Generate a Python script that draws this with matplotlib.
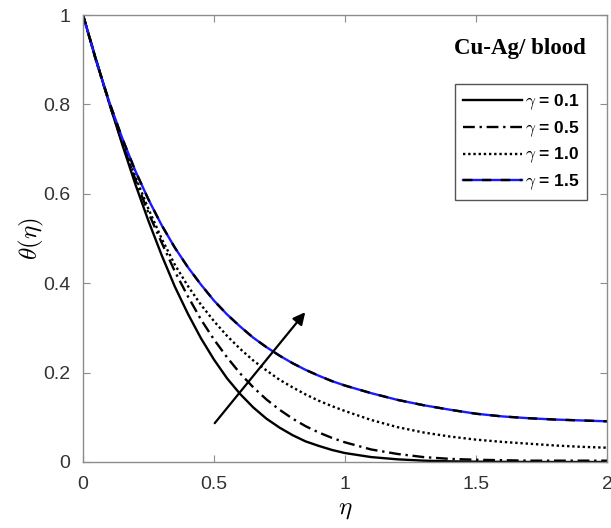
import matplotlib
matplotlib.use("Agg")
import matplotlib.pyplot as plt

plt.rcParams['mathtext.fontset'] = 'cm'
plt.rcParams['font.family'] = ['Liberation Sans', 'DejaVu Sans']

eta = [0.0, 0.05, 0.10, 0.15, 0.20, 0.25, 0.30, 0.35, 0.40, 0.45, 0.50,
       0.55, 0.60, 0.65, 0.70, 0.75, 0.80, 0.85, 0.90, 0.95, 1.00,
       1.1, 1.2, 1.3, 1.4, 1.5, 1.6, 1.7, 1.8, 1.9, 2.0]

theta_g01 = [1.0, 0.900, 0.803, 0.710, 0.621, 0.539, 0.463, 0.393, 0.332, 0.277, 0.229,
             0.187, 0.152, 0.122, 0.097, 0.077, 0.060, 0.046, 0.036, 0.027, 0.020,
             0.011, 0.006, 0.003, 0.0015, 0.0007, 0.0003, 0.0001, 0.0, 0.0, 0.0]
theta_g05 = [1.0, 0.900, 0.802, 0.714, 0.632, 0.557, 0.491, 0.427, 0.371, 0.319, 0.274,
             0.234, 0.198, 0.167, 0.140, 0.117, 0.097, 0.080, 0.066, 0.054, 0.044,
             0.028, 0.018, 0.011, 0.007, 0.005, 0.004, 0.003, 0.003, 0.003, 0.003]
theta_g10 = [1.0, 0.897, 0.803, 0.717, 0.638, 0.566, 0.500, 0.442, 0.394, 0.352, 0.315,
             0.282, 0.253, 0.227, 0.205, 0.184, 0.167, 0.151, 0.137, 0.125, 0.114,
             0.094, 0.078, 0.066, 0.057, 0.050, 0.045, 0.041, 0.037, 0.034, 0.032]
theta_g15 = [1.0, 0.898, 0.806, 0.724, 0.651, 0.587, 0.530, 0.480, 0.436, 0.397, 0.361,
             0.330, 0.303, 0.278, 0.257, 0.238, 0.221, 0.206, 0.193, 0.181, 0.171,
             0.154, 0.139, 0.127, 0.117, 0.108, 0.102, 0.098, 0.095, 0.093, 0.091]

labels = [r'$\gamma$ = 0.1', r'$\gamma$ = 0.5', r'$\gamma$ = 1.0', r'$\gamma$ = 1.5']
xticks = [0, 0.5, 1, 1.5, 2]
xticklabels = ['0', '0.5', '1', '1.5', '2']
yticks = [0, 0.2, 0.4, 0.6, 0.8, 1]
yticklabels = ['0', '0.2', '0.4', '0.6', '0.8', '1']
annot_text = 'Cu-Ag/ blood'

W, H = 611, 528
fig = plt.figure(figsize=(W / 100, H / 100), dpi=100)
ax = fig.add_axes([83 / W, (H - 462) / H, 524 / W, 447 / H])

lw = 1.7
l1, = ax.plot(eta, theta_g01, color='black', lw=lw, ls='-')
l2, = ax.plot(eta, theta_g05, color='black', lw=lw, ls=(0, (5, 2, 1, 2)))
l3, = ax.plot(eta, theta_g10, color='black', lw=lw, ls=(0, (1, 1.2)))
lb, = ax.plot(eta, theta_g15, color='#1a1aff', lw=lw, ls='-')
lk, = ax.plot(eta, theta_g15, color='black', lw=lw, ls=(0, (4, 4)))

ax.set_xlim(0, 2)
ax.set_ylim(0, 1)
ax.set_xticks(xticks)
ax.set_xticklabels(xticklabels)
ax.set_yticks(yticks)
ax.set_yticklabels(yticklabels)

spine_col = '#8c8c8c'
for s in ax.spines.values():
    s.set_color(spine_col)
    s.set_linewidth(1.0)
ax.tick_params(direction='in', top=True, right=True, length=5, width=0.8,
               color=spine_col, labelcolor='#333333', labelsize=14)
ax.tick_params(axis='x', pad=10)
ax.tick_params(axis='y', pad=9)

ax.set_xlabel(r'$\eta$', fontsize=18, labelpad=3)
ax.set_ylabel(r'$\theta(\eta)$', fontsize=18, labelpad=-2)

leg = ax.legend([l1, l2, l3, (lb, lk)], labels,
                loc='upper right', bbox_to_anchor=(0.962, 0.845),
                prop={'family': 'Liberation Sans', 'weight': 'bold', 'size': 12.5},
                handlelength=3.4, handletextpad=0.15, labelspacing=0.42,
                borderpad=0.45, fancybox=False, framealpha=1, borderaxespad=0)
leg.get_frame().set_edgecolor('#555555')
leg.get_frame().set_linewidth(1.0)

ax.text(0.834, 0.926, annot_text, transform=ax.transAxes, ha='center', va='center',
        fontsize=16.5, fontweight='bold', family='Liberation Serif')

ax.annotate('', xy=(0.855, 0.34), xytext=(0.496, 0.082),
            arrowprops=dict(arrowstyle='-|>', color='black', lw=1.6,
                            mutation_scale=18))

fig.savefig('out.png', dpi=100)
